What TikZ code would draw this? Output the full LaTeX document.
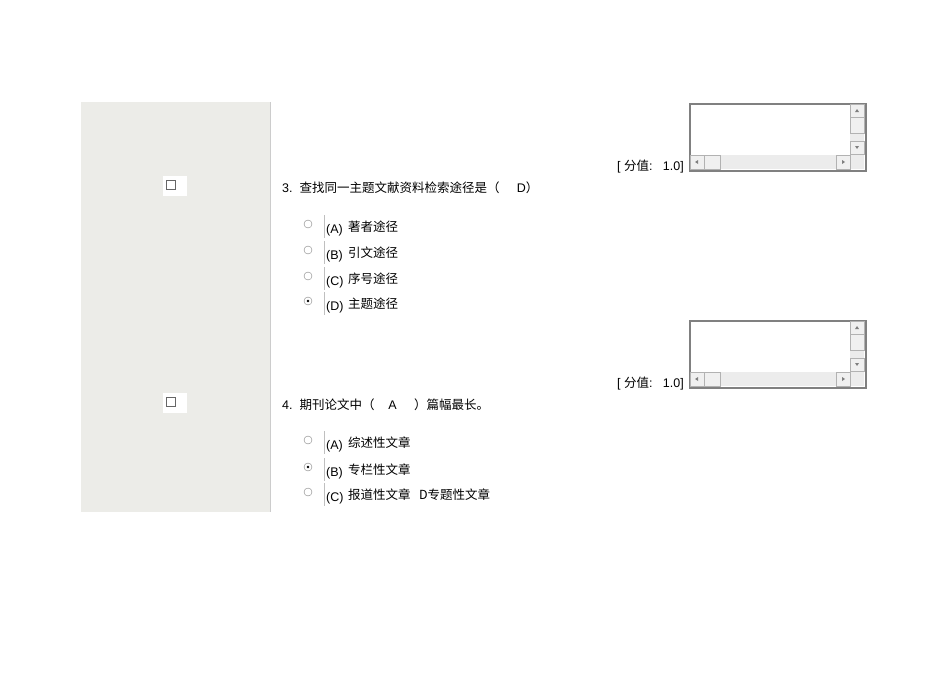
\documentclass[tikz,border=0pt]{standalone}
\usepackage{fontspec}
\setmainfont{Liberation Sans}
\newfontfamily\cjk{Noto Sans CJK SC}
\begin{document}
\begin{tikzpicture}[x=1pt,y=-1pt,
  txt/.style={anchor=base west,inner sep=0pt,font=\fontsize{12.5}{14}\selectfont},
  radio/.style={circle,draw=gray,fill=white,minimum size=8pt,inner sep=0pt},
  sbtn/.style={draw=gray!60,fill=gray!12},
  chk/.style={draw=gray!80!black,fill=white,minimum size=9pt,inner sep=0pt}]
\useasboundingbox (0,0) rectangle (950,672);
\fill[fill={rgb,255:red,236;green,236;blue,232}] (81,102) rectangle (270,512);
\draw[gray!40] (270,102) -- (270,512);
\foreach \y/\n in {186/c1,403/c2}{
  \fill[white] (163,\y-10) rectangle (187,\y+10);
  \node[chk] (\n) at (171,\y-1) {};
}
\foreach \t/\n in {103/tb1,320/tb2}{
  \node[draw=gray,line width=1.5pt,fill=white,minimum width=176pt,minimum height=67pt,anchor=north west,inner sep=0pt] (\n) at (689,\t) {};
  \fill[gray!15] (690,\t+52) rectangle (864,\t+66);
  \fill[gray!15] (850,\t+1) rectangle (864,\t+66);
  \draw[sbtn] (850,\t+1) rectangle (864,\t+14);
  \draw[sbtn] (850,\t+14) rectangle (864,\t+30);
  \draw[sbtn] (850,\t+38) rectangle (864,\t+51);
  \draw[sbtn] (690,\t+52) rectangle (704,\t+66);
  \draw[sbtn] (704,\t+52) rectangle (720,\t+66);
  \draw[sbtn] (836,\t+52) rectangle (850,\t+66);
  \fill[gray] (857,\t+6) -- (855,\t+9) -- (859,\t+9) -- cycle;
  \fill[gray] (857,\t+46) -- (855,\t+43) -- (859,\t+43) -- cycle;
  \fill[gray] (695,\t+59) -- (698,\t+57) -- (698,\t+61) -- cycle;
  \fill[gray] (845,\t+59) -- (842,\t+57) -- (842,\t+61) -- cycle;
}
\node[txt,anchor=base east] (s1) at (684,170) {[ {\cjk 分值}:\ \ \ 1.0]};
\node[txt,anchor=base east] (s2) at (684,387) {[ {\cjk 分值}:\ \ \ 1.0]};
\node[txt] (q3) at (282,192) {3.\ \ {\cjk 查找同一主题文献资料检索途径是（}\ \ \ \ \ D{\cjk ）}};
\foreach \y/\l/\c/\n in {224/A/著者途径/a,250/B/引文途径/b,276/C/序号途径/c,301/D/主题途径/d}{
  \node[radio] (r3\n) at (308,\y) {};
  \draw[gray!50] (324,\y-9) -- (324,\y+14);
  \node[txt] (l3\n) at (326,\y+9) {(\l)};
  \node[txt] (t3\n) at (348,\y+7) {\cjk \c};
}
\fill[black] (r3d) circle (1.4pt);
\node[txt] (q4) at (282,409) {4.\ \ {\cjk 期刊论文中（}\ \ \ \ A\ \ \ \ \ {\cjk ）篇幅最长。}};
\foreach \y/\l/\c/\n in {440/A/综述性文章/a,467/B/专栏性文章/b,492/C/报道性文章\ \ \ D专题性文章/c}{
  \node[radio] (r4\n) at (308,\y) {};
  \draw[gray!50] (324,\y-9) -- (324,\y+14);
  \node[txt] (l4\n) at (326,\y+9) {(\l)};
  \node[txt] (t4\n) at (348,\y+7) {\cjk \c};
}
\fill[black] (r4b) circle (1.4pt);
\end{tikzpicture}
\end{document}
